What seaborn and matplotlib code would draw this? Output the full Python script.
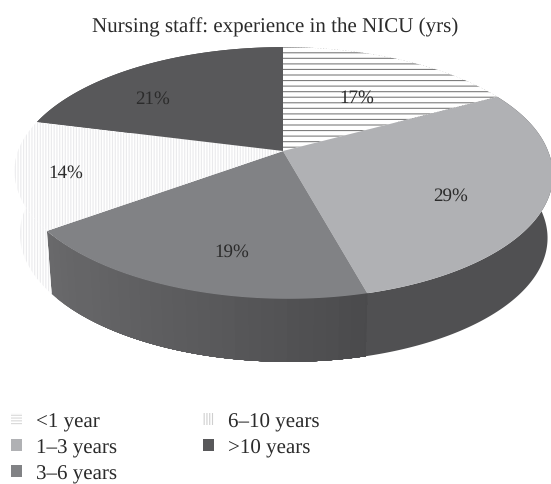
#!/usr/bin/env python

from matplotlib.patches import Patch
import matplotlib.pyplot as plt
import numpy as np
import seaborn as sns


CATEGORIES = ["<1 year", "1–3 years", "3–6 years", "6–10 years", ">10 years"]
VALUES = [17, 29, 19, 14, 21]
VALUE_LABELS = ["17%", "29%", "19%", "14%", "21%"]
TITLE = "Nursing staff: experience in the NICU (yrs)"

TOP_COLORS = ["white", "#b0b1b4", "#818285", "white", "#58585a"]
# shades along each side wall, left to right
WALL_RAMPS = [["#ffffff"], ["#505052"], ["#69696b", "#5c5c5e", "#4a4a4c"], ["#ffffff"], ["#444446"]]
HATCH_COLORS = ["#7d7d7d", None, None, "#eaeaec", None]
HATCHES = ["---", None, None, "||||||", None]
LEGEND_HATCHES = ["------", None, None, "||||||", None]
LEGEND_COLORS = ["#d8d8d8", "#b0b1b4", "#818285", "#cfcfcf", "#58585a"]

# pixel layout of the tilted disc
CX, CY = 283, 152
A, B, K = 265, 122, 0.1746
SHEAR = 0.035
DEPTH = 63
SHRINK = 0.02
LABEL_XY = [(357, 98), (451, 196), (232, 252), (66, 173), (153, 99)]


def project(theta):
    u, v = np.cos(theta), np.sin(theta)
    d = 1 + K * v
    y = CY - B * v / d
    x = CX + A * u / d + SHEAR * np.clip(y - CY, 0, None)
    return x, y


def main():
    sns.set_theme(style="white")
    plt.rcParams["font.family"] = ["Liberation Serif", "DejaVu Serif"]
    plt.rcParams["hatch.linewidth"] = 0.8
    plt.rcParams["text.hinting"] = "none"
    plt.rcParams["text.hinting_factor"] = 1

    fig, ax = plt.subplots(figsize=(5.51, 4.85), dpi=100)
    fig.subplots_adjust(left=0, right=1, top=1, bottom=0)

    # the pie gives the slice angles, then each one is redrawn in perspective
    wedges, _ = ax.pie(VALUES, startangle=90, counterclock=False)
    angles = [(w.theta1, w.theta2) for w in wedges]
    for w in wedges:
        w.remove()
    ax.set_aspect("auto")
    ax.set_xlim(0, 551)
    ax.set_ylim(485, 0)
    ax.axis("off")

    arcs = [np.radians(np.linspace(t1, t2, 240)) for t1, t2 in angles]

    # side walls first, the tops cover whatever faces away
    for i, th in enumerate(arcs):
        x, y = project(th)
        xb = x + (CX - x) * SHRINK
        yb = y + DEPTH
        if HATCHES[i]:
            ax.fill(np.r_[x, xb[::-1]], np.r_[y, yb[::-1]], facecolor="white",
                    edgecolor=HATCH_COLORS[i], hatch="||||||", linewidth=0, zorder=1)
        elif len(WALL_RAMPS[i]) == 1:
            ax.fill(np.r_[x, xb[::-1]], np.r_[y, yb[::-1]], color=WALL_RAMPS[i][0], linewidth=0, zorder=1)
        else:
            # painted left to right, each strip runs on under the next one
            shades = sns.blend_palette(WALL_RAMPS[i], 30)
            for k, start in enumerate(np.linspace(0, len(x) - 2, 30).astype(int)):
                ax.fill(np.r_[x[start:], xb[start:][::-1]], np.r_[y[start:], yb[start:][::-1]],
                        color=shades[k], linewidth=0, zorder=1)

    for i, th in enumerate(arcs):
        x, y = project(th)
        ax.fill(np.r_[CX, x], np.r_[CY, y], facecolor=TOP_COLORS[i],
                edgecolor=HATCH_COLORS[i] or TOP_COLORS[i],
                hatch=HATCHES[i], linewidth=0, zorder=2)

    for label, (lx, ly) in zip(VALUE_LABELS, LABEL_XY):
        ax.text(lx, ly, label, ha="center", va="center", fontsize=14, color="#2b2b2b", zorder=3)

    ax.text(275.5, 27, TITLE, ha="center", va="center", fontsize=15.1, color="#2b2b2b")

    handles = []
    for i, name in enumerate(CATEGORIES):
        if LEGEND_HATCHES[i]:
            handles.append(Patch(facecolor="white", edgecolor=LEGEND_COLORS[i], hatch=LEGEND_HATCHES[i],
                                 linewidth=0, label=name))
        else:
            handles.append(Patch(facecolor=LEGEND_COLORS[i], linewidth=0, label=name))
    ax.legend(handles=handles, ncol=2, frameon=False, fontsize=15, labelcolor="#2b2b2b",
              loc="lower left", bbox_to_anchor=(11 / 551, 1 / 485),
              handlelength=0.53, handleheight=0.53, handletextpad=0.67, labelspacing=0.33,
              columnspacing=4.14, borderaxespad=0, borderpad=0)

    fig.savefig("out.png", dpi=100)


if __name__ == '__main__':
    main()
